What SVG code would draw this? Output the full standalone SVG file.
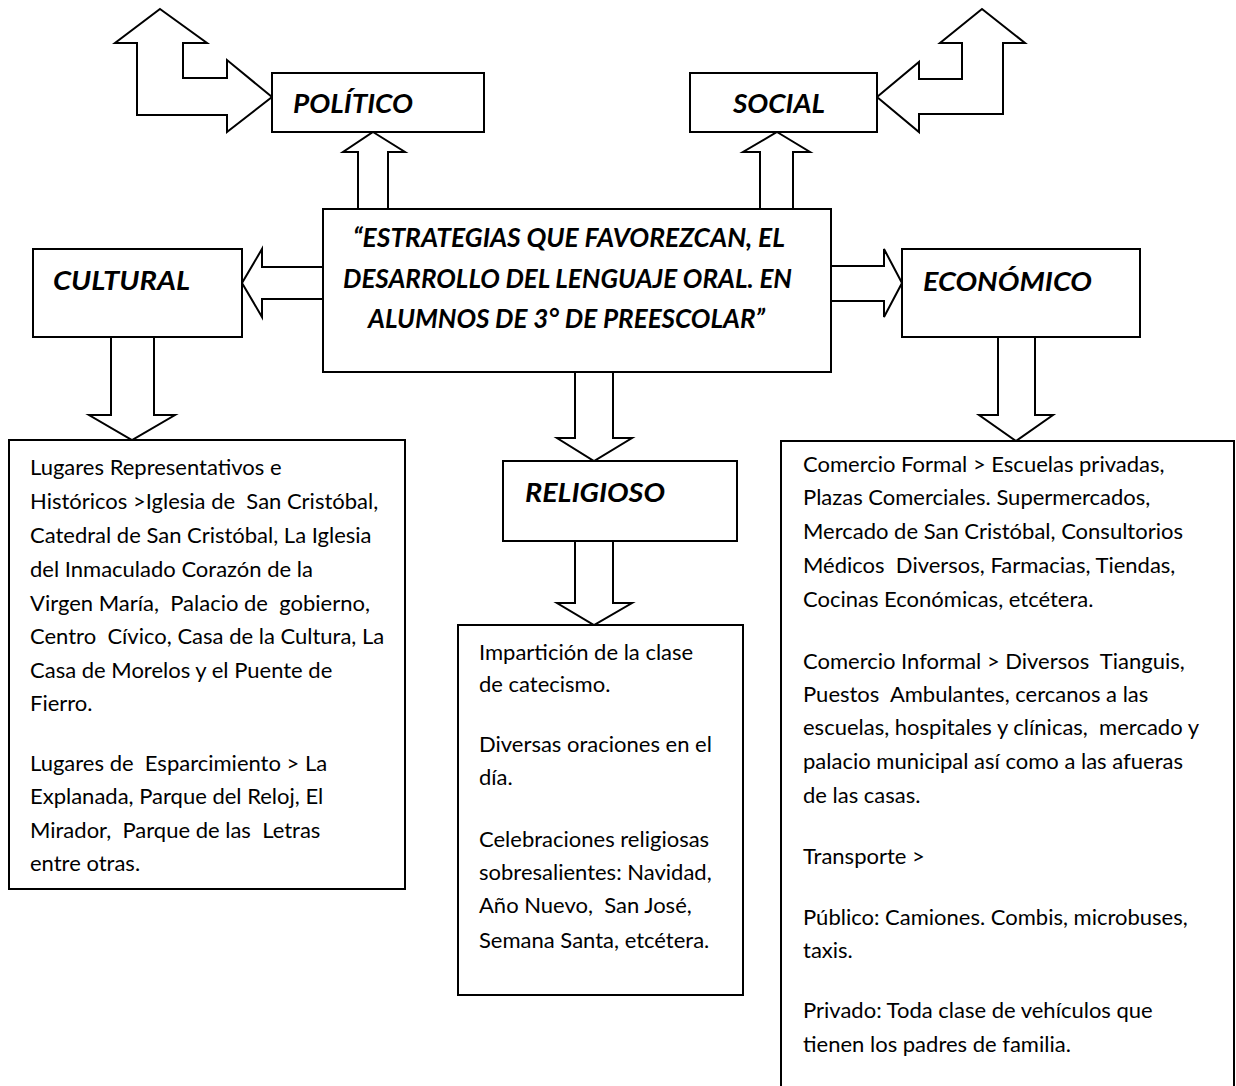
<svg xmlns="http://www.w3.org/2000/svg" width="1236" height="1086" viewBox="0 0 1236 1086">
<style>
.bx{fill:#fff;stroke:#000;stroke-width:2}
.ar{fill:#fff;stroke:#000;stroke-width:2;stroke-linejoin:miter}
.ti{font-family:Lato,"Liberation Sans",sans-serif;font-weight:bold;font-style:italic;font-size:27px;fill:#000}
.tx{font-family:Lato,"Liberation Sans",sans-serif;font-size:22px;fill:#000;white-space:pre}
</style>
<rect width="1236" height="1086" fill="#fff"/>
<g id="connectors">
<polygon class="ar" points="160,9 207,43 183,43 183,78 227,78 227,60 272,97 227,132 227,115 137,115 137,43 115,43"/>
<polygon class="ar" points="982,9 1025,43 1003,43 1003,114 919,114 919,132 877,97 919,62 919,79 962,79 962,43 940,43"/>
<polygon class="ar" points="373,132 405,152 388,152 388,209 358,209 358,152 343,152"/>
<polygon class="ar" points="777,132 810,152 793,152 793,209 760,209 760,152 743,152"/>
<polygon class="ar" points="242,283 262,249 262,267 323,267 323,299 262,299 262,317"/>
<polygon class="ar" points="902,283 884,317 884,301 831,301 831,266 884,266 884,249"/>
<polygon class="ar" points="111,337 154,337 154,415 175,415 132,440 89,415 111,415"/>
<polygon class="ar" points="998,337 1035,337 1035,415 1053,415 1016,441 979,415 998,415"/>
<polygon class="ar" points="575,372 613,372 613,438 632,438 594,461 557,438 575,438"/>
<polygon class="ar" points="575,541 613,541 613,603 632,603 594,625 557,603 575,603"/>
</g>
<g id="politico">
<rect class="bx" x="272" y="73" width="212" height="59"/>
<text class="ti" x="293" y="113" textLength="120" lengthAdjust="spacingAndGlyphs">POLÍTICO</text>
</g>
<g id="social">
<rect class="bx" x="690" y="73" width="187" height="59"/>
<text class="ti" x="733" y="113" textLength="92" lengthAdjust="spacingAndGlyphs">SOCIAL</text>
</g>
<g id="central">
<rect class="bx" x="323" y="209" width="508" height="163"/>
<text class="ti" x="353" y="247" textLength="432" lengthAdjust="spacingAndGlyphs">“ESTRATEGIAS QUE FAVOREZCAN, EL</text>
<text class="ti" x="343" y="288" textLength="449" lengthAdjust="spacingAndGlyphs">DESARROLLO DEL LENGUAJE ORAL. EN</text>
<text class="ti" x="368" y="328" textLength="397" lengthAdjust="spacingAndGlyphs">ALUMNOS DE 3° DE PREESCOLAR”</text>
</g>
<g id="cultural">
<rect class="bx" x="33" y="249" width="209" height="88"/>
<text class="ti" x="53" y="290" textLength="137" lengthAdjust="spacingAndGlyphs">CULTURAL</text>
</g>
<g id="economico">
<rect class="bx" x="902" y="249" width="238" height="88"/>
<text class="ti" x="923" y="291" textLength="169" lengthAdjust="spacingAndGlyphs">ECONÓMICO</text>
</g>
<g id="religioso">
<rect class="bx" x="503" y="461" width="234" height="80"/>
<text class="ti" x="525" y="502" textLength="140" lengthAdjust="spacingAndGlyphs">RELIGIOSO</text>
</g>
<g id="cultural-detalle">
<rect class="bx" x="9" y="440" width="396" height="449"/>
<text class="tx" x="30" y="475">Lugares Representativos e</text>
<text class="tx" x="30" y="509">Históricos &gt;Iglesia de  San Cristóbal,</text>
<text class="tx" x="30" y="543">Catedral de San Cristóbal, La Iglesia</text>
<text class="tx" x="30" y="577">del Inmaculado Corazón de la</text>
<text class="tx" x="30" y="611">Virgen María,  Palacio de  gobierno,</text>
<text class="tx" x="30" y="644">Centro  Cívico, Casa de la Cultura, La</text>
<text class="tx" x="30" y="678">Casa de Morelos y el Puente de</text>
<text class="tx" x="30" y="711">Fierro.</text>
<text class="tx" x="30" y="771">Lugares de  Esparcimiento &gt; La</text>
<text class="tx" x="30" y="804">Explanada, Parque del Reloj, El</text>
<text class="tx" x="30" y="838">Mirador,  Parque de las  Letras</text>
<text class="tx" x="30" y="871">entre otras.</text>
</g>
<g id="religioso-detalle">
<rect class="bx" x="458" y="625" width="285" height="370"/>
<text class="tx" x="479" y="660">Impartición de la clase</text>
<text class="tx" x="479" y="692">de catecismo.</text>
<text class="tx" x="479" y="752">Diversas oraciones en el</text>
<text class="tx" x="479" y="785">día.</text>
<text class="tx" x="479" y="847">Celebraciones religiosas</text>
<text class="tx" x="479" y="880">sobresalientes: Navidad,</text>
<text class="tx" x="479" y="913">Año Nuevo,  San José,</text>
<text class="tx" x="479" y="948">Semana Santa, etcétera.</text>
</g>
<g id="economico-detalle">
<rect class="bx" x="781" y="441" width="453" height="660"/>
<text class="tx" x="803" y="472">Comercio Formal &gt; Escuelas privadas,</text>
<text class="tx" x="803" y="505">Plazas Comerciales. Supermercados,</text>
<text class="tx" x="803" y="539">Mercado de San Cristóbal, Consultorios</text>
<text class="tx" x="803" y="573">Médicos  Diversos, Farmacias, Tiendas,</text>
<text class="tx" x="803" y="607">Cocinas Económicas, etcétera.</text>
<text class="tx" x="803" y="669">Comercio Informal &gt; Diversos  Tianguis,</text>
<text class="tx" x="803" y="702">Puestos  Ambulantes, cercanos a las</text>
<text class="tx" x="803" y="735">escuelas, hospitales y clínicas,  mercado y</text>
<text class="tx" x="803" y="769">palacio municipal así como a las afueras</text>
<text class="tx" x="803" y="803">de las casas.</text>
<text class="tx" x="803" y="864">Transporte &gt;</text>
<text class="tx" x="803" y="925">Público: Camiones. Combis, microbuses,</text>
<text class="tx" x="803" y="958">taxis.</text>
<text class="tx" x="803" y="1018">Privado: Toda clase de vehículos que</text>
<text class="tx" x="803" y="1052">tienen los padres de familia.</text>
</g>
</svg>
